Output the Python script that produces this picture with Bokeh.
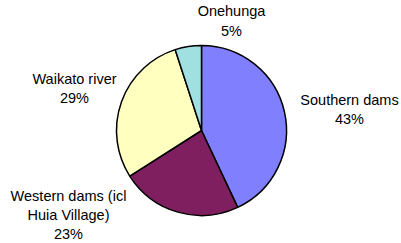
import math
from bokeh.plotting import figure
from bokeh.models import Range1d, ColumnDataSource
from bokeh.core.properties import value
from bokeh.embed import file_html
from bokeh.resources import INLINE

# Data
categories = ["Southern dams", "Western dams (icl\nHuia Village)", "Waikato river", "Onehunga"]
shares = [43, 23, 29, 5]
colors = ["#8080FF", "#7F1F5F", "#FFFFC0", "#A0E0E0"]

# Layout (pixel-based, y measured upward)
W, H = 401, 243
cx, cy, r = 201, 113, 85
# label block centres relative to pie centre (layout only)
label_dx = [148, -133, -127, 30]
label_dy = [21, -84.5, 42, 109.5]

total = float(sum(shares))
starts, ends = [], []
cum = 0.0
for s in shares:
    starts.append(math.pi / 2 - 2 * math.pi * cum / total)
    cum += s
    ends.append(math.pi / 2 - 2 * math.pi * cum / total)

src = ColumnDataSource(dict(start=starts, end=ends, color=colors))

p = figure(width=W, height=H, x_range=Range1d(0, W), y_range=Range1d(0, H),
           output_backend="svg", toolbar_location=None, min_border=0)
p.axis.visible = False
p.grid.visible = False
p.outline_line_color = None
p.background_fill_color = "white"

p.wedge(x=cx, y=cy, radius=r, radius_units="screen", start_angle="start", end_angle="end",
        direction="clock", fill_color="color", line_color="black", line_width=1.5, source=src)

labels = [f"{c}\n{s}%" for c, s in zip(categories, shares)]
lsrc = ColumnDataSource(dict(x=[cx + d for d in label_dx], y=[cy + d for d in label_dy], t=labels))
p.text(x="x", y="y", text="t", source=lsrc, text_align="center", text_baseline="middle",
       text_font=value("Liberation Sans"), text_font_size="14.5px", text_color="black",
       text_line_height=1.2)

open("out.html", "w").write(file_html(p, INLINE))
